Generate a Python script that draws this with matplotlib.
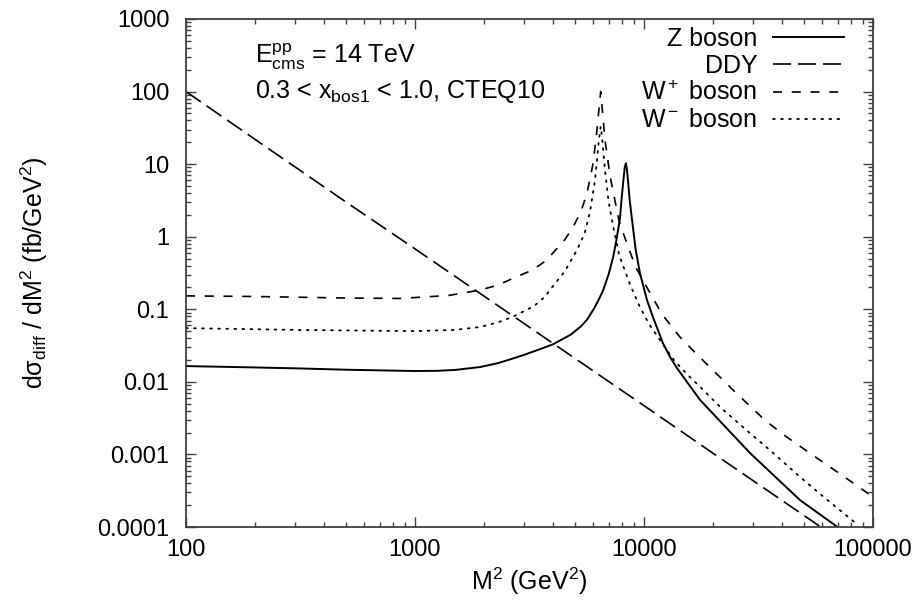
import numpy as np
import matplotlib
matplotlib.use("Agg")
import matplotlib.pyplot as plt
from matplotlib.ticker import LogLocator, FixedLocator, FixedFormatter, NullFormatter

plt.rcParams["font.family"] = ["Liberation Sans", "DejaVu Sans"]
plt.rcParams["mathtext.fontset"] = "custom"
plt.rcParams["mathtext.rm"] = "Liberation Sans"
plt.rcParams["mathtext.it"] = "Liberation Sans"
plt.rcParams["lines.scale_dashes"] = False

# values (M^2 in GeV^2, dsigma/dM^2 in fb/GeV^2)
z_m2 = [100, 200, 315, 500, 1000, 1250, 1500, 1923, 2300, 2680, 3000, 3600,
        4010, 4800, 5300, 5640, 6000, 6300, 6620, 7000, 7330, 7600, 7855,
        8000, 8150, 8250, 8340, 8420, 8500, 8650, 8830, 9200, 9610, 10300,
        10940, 11500, 12100, 13000, 13930, 15500, 17600, 20000, 23000, 29000,
        38000, 48000, 58000, 70000]
z_val = [0.0165, 0.0158, 0.0153, 0.0147, 0.0141, 0.0142, 0.0146, 0.016,
         0.0181, 0.021, 0.0236, 0.029, 0.033, 0.045, 0.058, 0.072, 0.098,
         0.13, 0.18, 0.3, 0.52, 0.95, 1.8, 3.6, 6.5, 9.3, 10.3, 8.5, 6.3, 3.3,
         1.9, 0.66, 0.31, 0.135, 0.078, 0.052, 0.034, 0.022, 0.0155, 0.0097,
         0.0056, 0.00365, 0.00228, 0.00105, 0.00047, 0.000235, 0.000153, 0.0001]

ddy_m2 = [100, 200, 500, 1000, 2000, 5000, 10000, 20000, 50000, 70000]
ddy_val = [100, 22, 3.0, 0.68, 0.152, 0.021, 0.0047, 0.00104, 0.000144, 0.000069]

wp_m2 = [100, 200, 500, 860, 1400, 1923, 2300, 2680, 3275, 3700, 4010, 4500,
         4900, 5300, 5640, 5985, 6200, 6350, 6470, 6580, 6750, 6890, 7100,
         7330, 7800, 8430, 9200, 10300, 12000, 14350, 17000, 20000, 24500,
         30000, 34000, 42000, 55000, 70000, 100000]
wp_val = [0.153, 0.15, 0.143, 0.141, 0.155, 0.184, 0.215, 0.267, 0.35, 0.46,
          0.6, 0.9, 1.36, 2.2, 4.0, 10, 25, 55, 100, 55, 22, 14, 7, 4.2, 1.6,
          0.8, 0.38, 0.2, 0.085, 0.0414, 0.024, 0.0145, 0.0077, 0.0042,
          0.0029, 0.00174, 0.00096, 0.00057, 0.00026]

wm_m2 = [100, 300, 1000, 1500, 1923, 2300, 2680, 3300, 3700, 4010, 4500, 5090,
         5500, 5810, 6100, 6240, 6350, 6470, 6580, 6750, 7000, 7330, 7800,
         8690, 9500, 10500, 11750, 13500, 15500, 17600, 22000, 29000, 36000,
         48000, 60000, 85000]
wm_val = [0.055, 0.052, 0.050, 0.052, 0.057, 0.066, 0.079, 0.11, 0.15, 0.21,
          0.33, 0.65, 1.1, 2.2, 5.8, 11.8, 21, 33, 21, 8.4, 3.1, 1.4, 0.55,
          0.22, 0.115, 0.063, 0.0377, 0.02, 0.0125, 0.0085, 0.0042, 0.00197,
          0.0011, 0.00049, 0.00027, 0.00011]

x_ticks = [100, 1000, 10000, 100000]
x_labels = ["100", "1000", "10000", "100000"]
y_ticks = [0.0001, 0.001, 0.01, 0.1, 1, 10, 100, 1000]
y_labels = ["0.0001", "0.001", "0.01", "0.1", "1", "10", "100", "1000"]

fig = plt.figure(figsize=(9.23, 6.12), dpi=100)
ax = fig.add_axes([186 / 923, 85 / 612, 687 / 923, 508 / 612])

ax.plot(z_m2, z_val, color="black", lw=1.4, label="Z boson")
ax.plot(ddy_m2, ddy_val, color="black", lw=1.2, dashes=(13, 5), label="DDY")
ax.plot(wp_m2, wp_val, color="black", lw=1.2, dashes=(6.5, 7), label="W$^+$ boson")
ax.plot(wm_m2, wm_val, color="black", lw=1.3, dashes=(1.3, 4.5),
        dash_capstyle="round", label="W$^{\\rm -}$ boson")

ax.set_xscale("log")
ax.set_yscale("log")
ax.set_xlim(100, 100000)
ax.set_ylim(0.0001, 1000)

ax.xaxis.set_major_locator(FixedLocator(x_ticks))
ax.xaxis.set_major_formatter(FixedFormatter(x_labels))
ax.yaxis.set_major_locator(FixedLocator(y_ticks))
ax.yaxis.set_major_formatter(FixedFormatter(y_labels))
for axis in (ax.xaxis, ax.yaxis):
    axis.set_minor_locator(LogLocator(base=10, subs=np.arange(2, 10), numticks=100))
    axis.set_minor_formatter(NullFormatter())

ax.tick_params(which="both", direction="in", top=True, right=True,
               color="#404040", width=1.0, labelsize=17, labelcolor="black")
ax.tick_params(which="major", length=7)
ax.tick_params(which="minor", length=3.5)
ax.tick_params(axis="x", which="major", pad=9)
ax.tick_params(axis="y", which="major", pad=12)
for s in ax.spines.values():
    s.set_color("#404040")
    s.set_linewidth(1.3)

ax.set_xlabel("M$^2$ (GeV$^2$)", fontsize=18, labelpad=3)
ax.set_ylabel("dσ$_{\\rm diff}$ / dM$^2$ (fb/GeV$^2$)", fontsize=18, labelpad=34)

ax.text(0.1, 0.925, "E$^{\\rm pp}_{\\rm cms}$ = 14 TeV", transform=ax.transAxes,
        fontsize=18, va="center", ha="left")
ax.text(0.1, 0.858, "0.3 < x$_{\\rm bos1}$ < 1.0, CTEQ10", transform=ax.transAxes,
        fontsize=18, va="center", ha="left")

ax.legend(loc="upper right", bbox_to_anchor=(0.958, 0.984), frameon=False,
          markerfirst=False, fontsize=18, handlelength=2.84, handletextpad=0.64,
          labelspacing=0.12, borderpad=0, borderaxespad=0)

fig.savefig("out.png", dpi=100)
